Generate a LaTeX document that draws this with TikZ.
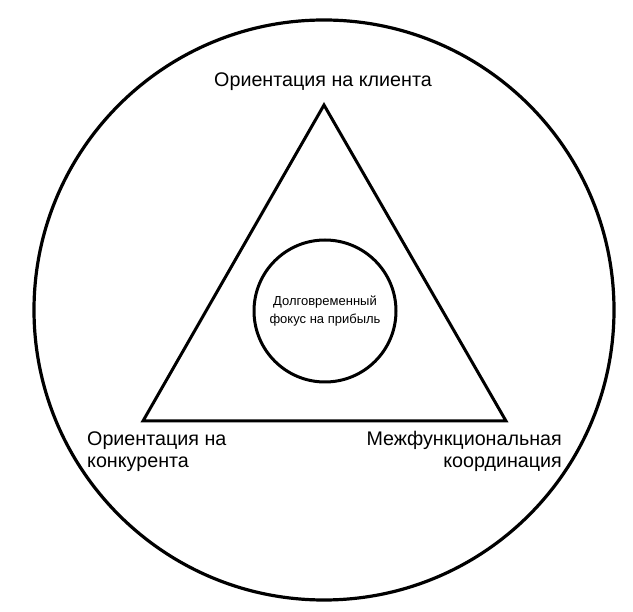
\documentclass[tikz,border=0pt]{standalone}
\usepackage{fontspec}
\setmainfont{Liberation Sans}
\begin{document}
\begin{tikzpicture}[x=1pt,y=-1pt,
  triline/.style={draw=black, line width=3pt, line join=miter},
  lbl/.style={inner sep=0pt, font=\fontsize{19.7}{22}\selectfont},
  small/.style={inner sep=0pt, font=\fontsize{13}{17.5}\selectfont}]
\useasboundingbox (0,0) rectangle (633,612);
\node[circle, draw=black, line width=3.2pt, inner sep=0pt, minimum size=580pt] (outer) at (324,310) {};
\coordinate (A) at (324,105);
\coordinate (B) at (143,421);
\coordinate (C) at (506,421);
\draw[triline] (A) -- (B) -- (C) -- cycle;
\node[circle, draw=black, line width=3pt, inner sep=0pt, minimum size=142pt, align=center, small] (focus) at (325,311) {Долговременный\\фокус на прибыль};
\node[lbl, anchor=base] (top) at (323,87) {Ориентация на клиента};
\node[lbl, anchor=base west, align=left] (left) at (87,468) {Ориентация на\\конкурента};
\node[lbl, anchor=base east, align=right] (right) at (562,468) {Межфункциональная\\координация};
\end{tikzpicture}
\end{document}
